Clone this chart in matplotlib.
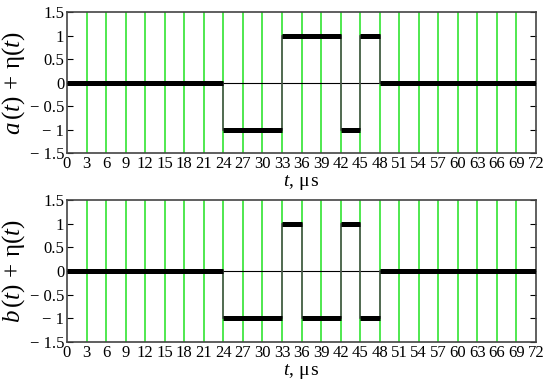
import matplotlib
matplotlib.use('Agg')
from matplotlib import pyplot as plt

# signal levels between switching times, microseconds
a_edges = [0, 24, 33, 42, 45, 48, 72]
a_levels = [0, -1, 1, -1, 1, 0]
b_edges = [0, 24, 33, 36, 42, 45, 48, 72]
b_levels = [0, -1, 1, -1, 1, -1, 0]

x_ticks = list(range(0, 73, 3))
y_ticks = [-1.5, -1, -0.5, 0, 0.5, 1, 1.5]
y_ticklabels = ['\u2212 1.5', '\u2212 1', '\u2212 0.5', '0', '0.5', '1', '1.5']

plt.rcParams['font.family'] = 'Liberation Serif'
plt.rcParams['mathtext.fontset'] = 'custom'
plt.rcParams['mathtext.rm'] = 'Liberation Serif'
plt.rcParams['mathtext.it'] = 'Liberation Serif:italic'

fig = plt.figure(figsize=(5.46, 3.81), dpi=100)
ax_a = fig.add_axes([0.1227, 0.5984, 0.859, 0.370])
ax_b = fig.add_axes([0.1227, 0.1024, 0.859, 0.3727])


def draw(ax, edges, levels, ylabel):
    for t in x_ticks[1:-1]:
        ax.axvline(t, color='#4fe84f', lw=1.4, zorder=1)
    ax.axhline(0, color='black', lw=0.8, zorder=2)
    # transitions
    for i in range(1, len(edges) - 1):
        ax.plot([edges[i], edges[i]], [levels[i - 1], levels[i]],
                color='#555555', lw=1.2, zorder=3)
    # levels
    for i in range(len(levels)):
        ax.plot([edges[i], edges[i + 1]], [levels[i], levels[i]],
                color='black', lw=3.6, solid_capstyle='butt', zorder=4)
    ax.set_xlim(0, 72)
    ax.set_ylim(-1.5, 1.5)
    ax.set_xticks(x_ticks)
    ax.set_xticklabels([str(t) for t in x_ticks], fontsize=12)
    ax.set_yticks(y_ticks)
    ax.set_yticklabels(y_ticklabels, fontsize=12)
    ax.tick_params(axis='x', length=0, pad=2)
    ax.tick_params(axis='y', direction='in', length=4, left=True, right=True,
                   pad=2)
    for s in ax.spines.values():
        s.set_color('#444444')
        s.set_linewidth(1.2)
    ax.set_xlabel(r'$t$, $\mathrm{\mu\,s}$', fontsize=14, labelpad=1)
    ax.set_ylabel(ylabel, fontsize=18, labelpad=2)


draw(ax_a, a_edges, a_levels, r'$a\,(t)\,+\,\mathrm{\eta}(t)$')
draw(ax_b, b_edges, b_levels, r'$b\,(t)\,+\,\mathrm{\eta}(t)$')

fig.savefig('out.png', dpi=100)
